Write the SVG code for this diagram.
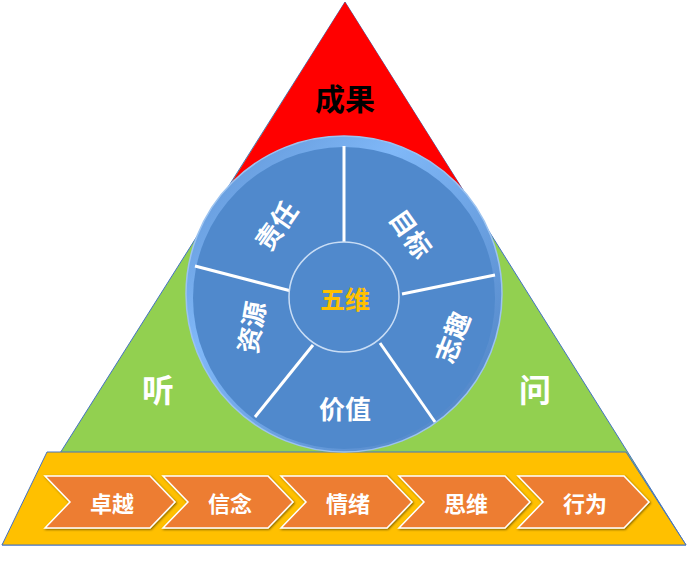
<svg xmlns="http://www.w3.org/2000/svg" width="688" height="569" viewBox="0 0 688 569">
<defs>
<style>
text{font-family:"Noto Sans CJK SC","Liberation Sans",sans-serif;font-weight:bold;text-anchor:middle;dominant-baseline:central}
.w{fill:#fff}
.chev{fill:#ED7D31;stroke:#fff;stroke-width:1.5}
.ct{fill:#fff;font-size:22px}
.div{stroke:#fff;stroke-width:3}
</style>
<linearGradient id="rim" x1="0" y1="0" x2="1" y2="1">
<stop offset="0" stop-color="#5B8FD0"/><stop offset="0.35" stop-color="#80B8F8"/><stop offset="1" stop-color="#4A7DBE"/>
</linearGradient>
<filter id="sh"><feDropShadow dx="1" dy="1" stdDeviation="0.8" flood-color="#000" flood-opacity="0.5"/></filter>
</defs>
<rect width="688" height="569" fill="#fff"/>
<g id="pyramid">
<polygon points="345,2 2,545 686,545" fill="#92D050" stroke="#4472C4" stroke-width="1"/>
<polygon points="345,2 227,190 463,190" fill="#FF0000"/>
<polygon points="47,452 626,452 686,545 2,545" fill="#FFC000" stroke="#4472C4" stroke-width="1"/>
</g>
<g id="labels">
<text x="345" y="97" font-size="30" fill="#000">成果</text>
<text x="158" y="388" font-size="32" class="w">听</text>
<text x="535" y="388" font-size="32" class="w">问</text>
</g>
<g id="wheel">
<circle cx="344" cy="294" r="158" fill="url(#rim)" stroke="#9CC3F0" stroke-width="1.5"/>
<circle cx="344" cy="298" r="151" fill="#5089CC"/>
<g class="div">
<line x1="344" y1="146" x2="344" y2="243"/>
<line x1="195" y1="266" x2="295" y2="292"/>
<line x1="495" y1="275" x2="402" y2="294"/>
<line x1="313" y1="345" x2="255" y2="417"/>
<line x1="380" y1="343" x2="435" y2="422"/>
</g>
<circle cx="344" cy="297" r="55" fill="#5089CC" stroke="#C9DDF5" stroke-width="1.5"/>
<text x="345" y="298" font-size="25" fill="#FFC000">五维</text>
<text class="w" font-size="26" transform="translate(275,225) rotate(-55)">责任</text>
<text class="w" font-size="26" transform="translate(412,233) rotate(55)">目标</text>
<text class="w" font-size="26" transform="translate(451,337) rotate(-69)">志趣</text>
<text class="w" font-size="26" transform="translate(250,327) rotate(-80)">资源</text>
<text class="w" font-size="26" x="345" y="407">价值</text>
</g>
<g id="chevrons" filter="url(#sh)">
<polygon class="chev" points="45,476 150,476 175,502 150,528 45,528 70,502"/>
<polygon class="chev" points="163,476 268,476 293,502 268,528 163,528 188,502"/>
<polygon class="chev" points="281,476 387,476 412,502 387,528 281,528 306,502"/>
<polygon class="chev" points="399,476 505,476 530,502 505,528 399,528 424,502"/>
<polygon class="chev" points="518,476 624,476 649,502 624,528 518,528 543,502"/>
</g>
<g id="chevtext">
<text class="ct" x="112" y="502">卓越</text>
<text class="ct" x="230" y="502">信念</text>
<text class="ct" x="348" y="502">情绪</text>
<text class="ct" x="466" y="502">思维</text>
<text class="ct" x="585" y="502">行为</text>
</g>
</svg>
